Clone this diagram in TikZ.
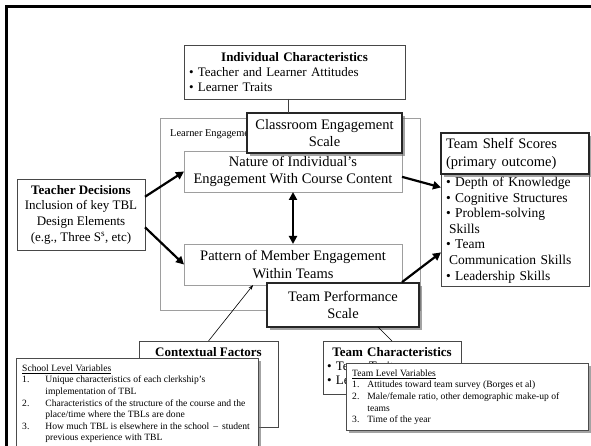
\documentclass[tikz,border=0pt]{standalone}
\usepackage{fontspec}
\setmainfont{Liberation Serif}
\usetikzlibrary{shadows,arrows.meta,calc}
\begin{document}
\begin{tikzpicture}[x=1pt,y=-1pt,
  base/.style={anchor=north west, inner sep=0pt, outer sep=0pt, fill=white},
  darkbox/.style={base, draw=black!72, line width=0.9pt},
  lightbox/.style={base, draw=black!38, line width=0.7pt},
  shadowed/.style={drop shadow={shadow xshift=3pt, shadow yshift=-3pt, opacity=0.6, fill=black!60}},
  scalebox/.style={base, draw=black!85, line width=1.1pt, shadowed},
  notebox/.style={base, draw=black!70, line width=0.8pt, shadowed},
  bigfont/.style={font=\fontsize{14.5}{17.5}\selectfont},
  midfont/.style={font=\fontsize{13}{15.5}\selectfont},
  smallfont/.style={font=\fontsize{9.6}{11.6}\selectfont},
  boldarrow/.style={line width=2.2pt, -{Triangle[length=8pt,width=8pt]}},
  dblarrow/.style={line width=2.4pt, {Triangle[length=8pt,width=8pt]}-{Triangle[length=8pt,width=8pt]}},
  thinarrow/.style={line width=0.6pt, -{Stealth[length=5pt,width=3.5pt]}},
  plainline/.style={line width=0.8pt, draw=black!75},
]
\clip (0,0) rectangle (591,446);
\fill[white] (0,0) rectangle (591,446);
\draw[line width=3pt] (6.5,460) -- (6.5,6.5) -- (600,6.5);

% Learner engagement frame
\node[lightbox, minimum width=260pt, minimum height=192pt] (learn) at (160,118) {};
\node[anchor=west, inner sep=0pt, font=\fontsize{10.4}{12}\selectfont] (learnlbl) at (170,134) {Learner Engagement};

% Individual characteristics
\node[darkbox, minimum width=221pt, minimum height=54pt, inner xsep=5pt, text width=211pt, align=left,
      font=\fontsize{13}{15}\selectfont] (ind) at (184,45)
  {{\centering\bfseries Individual Characteristics\par}\raggedright
   \textbullet\ Teacher and Learner Attitudes\\
   \textbullet\ Learner Traits};

% Nature / Pattern
\node[lightbox, minimum width=218pt, minimum height=41pt, align=center, bigfont] (nature) at (184,151)
  {Nature of Individual’s\\Engagement With Course Content};
\node[lightbox, minimum width=218pt, minimum height=41pt, align=center, bigfont] (pattern) at (184,244)
  {Pattern of Member Engagement\\Within Teams};

% Scales
\node[scalebox, minimum width=155pt, minimum height=40pt, align=center, bigfont] (cls) at (247,113)
  {Classroom Engagement\\Scale};
\node[scalebox, minimum width=152pt, minimum height=44pt, align=center, bigfont] (tperf) at (267,283)
  {Team Performance\\Scale};

% Teacher decisions
\node[darkbox, minimum width=128pt, minimum height=71pt, align=center,
      font=\fontsize{13}{15.7}\selectfont] (teacher) at (17,179)
  {\textbf{Teacher Decisions}\\Inclusion of key TBL\\Design Elements\\(e.g., Three S\textsuperscript{s}, etc)};

% Team shelf scores
\node[darkbox, minimum width=148pt, minimum height=112pt, inner xsep=5pt, text width=138pt, align=left,
      font=\fontsize{13.5}{15.6}\selectfont] (shelf) at (441,174)
  {\textbullet\ Depth of Knowledge\\
   \textbullet\ Cognitive Structures\\
   \textbullet\ Problem-solving\\
   \hspace*{3pt}Skills\\
   \textbullet\ Team\\
   \hspace*{3pt}Communication Skills\\
   \textbullet\ Leadership Skills};
\node[scalebox, minimum width=148pt, minimum height=41pt, inner xsep=5pt, text width=138pt, align=left,
      font=\fontsize{14.5}{18}\selectfont] (shelfhead) at (441,133)
  {Team Shelf Scores\\(primary outcome)};

% connectors of the middle
\coordinate (indfoot) at ($(ind.south west)!0.471!(ind.south east)$);
\draw[plainline] (indfoot) -- (indfoot |- cls.north);
\draw[dblarrow] (nature.south) -- (pattern.north);
\coordinate (tdA) at ($(teacher.north east)!0.25!(teacher.south east)$);
\coordinate (tdB) at ($(teacher.north east)!0.68!(teacher.south east)$);
\draw[boldarrow] (tdA) -- (nature.west);
\draw[boldarrow] (tdB) -- (pattern.west);
\coordinate (natOut) at ($(nature.north east)!0.63!(nature.south east)$);
\coordinate (patOut) at ($(pattern.north east)!0.93!(pattern.south east)$);
\coordinate (shelfA) at ($(shelf.north west)!0.12!(shelf.south west)$);
\coordinate (shelfB) at ($(shelf.north west)!0.70!(shelf.south west)$);
\draw[boldarrow] (natOut) -- (shelfA);
\draw[boldarrow] (patOut) -- (shelfB);

% Contextual factors
\node[darkbox, minimum width=139pt, minimum height=86pt] (ctx) at (139,341) {};
\node[anchor=base, inner sep=0pt, font=\fontsize{13}{15}\selectfont\bfseries] (ctxtitle) at ($(ctx.north)+(0,15.5)$) {Contextual Factors};
\coordinate (patIn) at ($(pattern.south west)!0.317!(pattern.south east)$);
\draw[thinarrow] (ctx.north) -- (patIn);

\node[notebox, minimum width=242pt, minimum height=100pt] (school) at (16,358) {};
\node[anchor=north west, inner sep=0pt, smallfont] (schooltxt) at (22,363)
  {\begin{tabular}{@{}l@{\hspace{16pt}}l@{}}
   \multicolumn{2}{@{}l}{\underline{School Level Variables}}\\
   1. & Unique characteristics of each clerkship’s\\
      & implementation of TBL\\
   2. & Characteristics of the structure of the course and the\\
      & place/time where the TBLs are done\\
   3. & How much TBL is elsewhere in the school \,–\, student\\
      & previous experience with TBL
   \end{tabular}};

% Team characteristics
\node[darkbox, minimum width=138pt, minimum height=53pt, inner xsep=4pt, text width=130pt, align=left,
      font=\fontsize{13}{14}\selectfont] (tchar) at (323,341)
  {{\centering\bfseries Team Characteristics\par}\raggedright
   \textbullet\ Team Traits\\
   \textbullet\ Leadership};
\coordinate (tperfFoot) at ($(tperf.south west)!0.73!(tperf.south east)$);
\draw[line width=0.6pt] (tperfFoot) -- (tchar.north);

\node[notebox, minimum width=242pt, minimum height=67pt] (teamlvl) at (346,363) {};
\node[anchor=north west, inner sep=0pt, smallfont] (teamlvltxt) at (352,368)
  {\begin{tabular}{@{}l@{\hspace{8pt}}l@{}}
   \multicolumn{2}{@{}l}{\underline{Team Level Variables}}\\
   1. & Attitudes toward team survey (Borges et al)\\
   2. & Male/female ratio, other demographic make-up of\\
      & teams\\
   3. & Time of the year
   \end{tabular}};
\end{tikzpicture}
\end{document}
